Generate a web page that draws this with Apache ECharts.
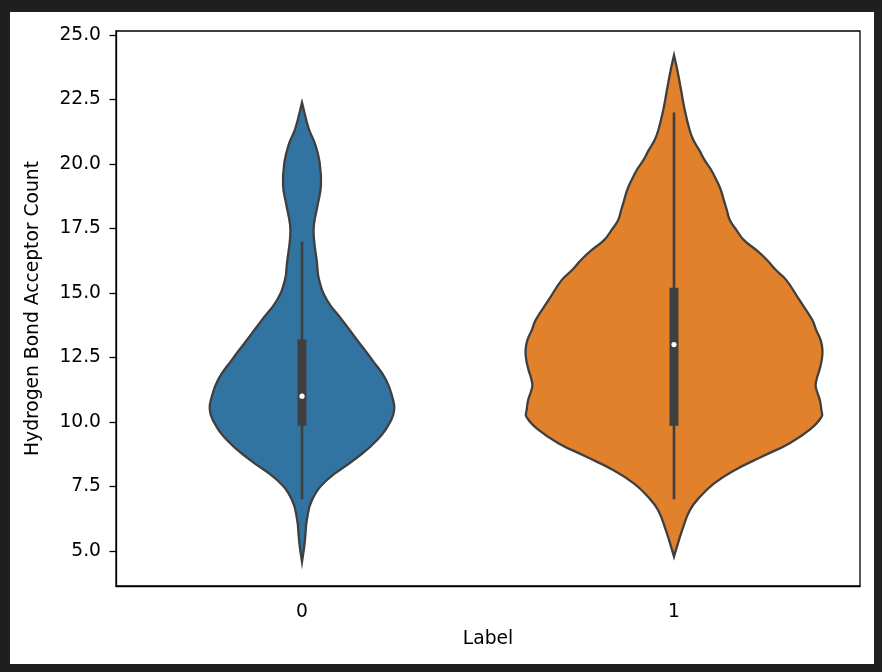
<!DOCTYPE html>
<html>
<head>
<meta charset="utf-8">
<script src="https://cdn.jsdelivr.net/npm/echarts@6/dist/echarts.min.js"></script>
<style>
  html, body { margin: 0; padding: 0; background: #1f1f1f; }
  #paper { position: absolute; left: 10px; top: 12px; width: 864px; height: 652px; background: #ffffff; }
  #main { position: absolute; left: 0; top: 0; width: 882px; height: 672px; }
</style>
</head>
<body>
<div id="paper"></div>
<div id="main"></div>
<script>
// categories on the x axis
var categories = ['0', '1'];
var yTicks = [5.0, 7.5, 10.0, 12.5, 15.0, 17.5, 20.0, 22.5, 25.0];

// violin outlines: value and half width (fraction of a category band)
var violin0Y = [22.39, 21.38, 20.74, 20.09, 19.19, 18.41, 17.64, 17.12, 16.21, 15.50, 14.73, 13.95, 13.18, 12.40, 11.63, 10.85, 10.50, 10.08, 9.30, 8.53, 7.75, 6.98, 6.20, 5.60, 5.17, 4.58];
var violin0W = [0, 0.018, 0.036, 0.047, 0.051, 0.042, 0.032, 0.032, 0.040, 0.046, 0.067, 0.108, 0.148, 0.189, 0.226, 0.245, 0.248, 0.240, 0.202, 0.140, 0.067, 0.027, 0.013, 0.009, 0.006, 0];
var violin1Y = [24.22, 23.64, 22.87, 22.09, 21.32, 20.93, 20.54, 20.16, 19.77, 19.38, 18.99, 18.60, 18.22, 17.83, 17.44, 17.05, 16.67, 16.28, 15.89, 15.50, 14.73, 13.95, 13.57, 13.18, 12.79, 12.40, 12.02, 11.63, 11.37, 10.85, 10.47, 10.21, 9.69, 9.17, 8.66, 8.14, 7.62, 7.10, 6.59, 5.81, 5.17, 4.78];
var violin1W = [0, 0.009, 0.019, 0.029, 0.042, 0.052, 0.068, 0.082, 0.100, 0.114, 0.126, 0.134, 0.142, 0.150, 0.168, 0.188, 0.221, 0.250, 0.274, 0.302, 0.337, 0.372, 0.382, 0.394, 0.399, 0.397, 0.391, 0.383, 0.381, 0.392, 0.396, 0.397, 0.364, 0.310, 0.237, 0.164, 0.108, 0.070, 0.043, 0.022, 0.008, 0];

// inner box: whiskers, quartiles, median
var whiskerLow = [7.0, 7.0];
var whiskerHigh = [17.0, 22.0];
var q1 = [9.85, 9.85];
var q3 = [13.2, 15.2];
var median = [11.0, 13.0];

var colors = ['#3274a1', '#e1812c'];
var edge = '#3f3f3f';
var violinY = [violin0Y, violin1Y];
var violinW = [violin0W, violin1W];
var font = 'DejaVu Sans';

var chart = echarts.init(document.getElementById('main'), null, { renderer: 'canvas' });

function renderViolin(params, api) {
  var i = api.value(0);
  var ys = violinY[i], ws = violinW[i];
  var band = api.size([1, 0])[0];
  var cx = api.coord([i, 0])[0];
  var right = [], left = [];
  for (var k = 0; k < ys.length; k++) {
    var py = api.coord([i, ys[k]])[1];
    right.push([cx + ws[k] * band, py]);
    left.unshift([cx - ws[k] * band, py]);
  }
  var pts = right.concat(left);
  var yLo = api.coord([i, whiskerLow[i]])[1];
  var yHi = api.coord([i, whiskerHigh[i]])[1];
  var yQ1 = api.coord([i, q1[i]])[1];
  var yQ3 = api.coord([i, q3[i]])[1];
  var yMed = api.coord([i, median[i]])[1];
  return {
    type: 'group',
    children: [
      { type: 'polygon', shape: { points: pts, smooth: 0.45 },
        style: { fill: colors[i], stroke: edge, lineWidth: 2.3 } },
      { type: 'line', shape: { x1: cx, y1: yLo, x2: cx, y2: yHi },
        style: { stroke: edge, lineWidth: 2.6 } },
      { type: 'rect', shape: { x: cx - 4.5, y: yQ3, width: 9, height: yQ1 - yQ3 },
        style: { fill: edge } },
      { type: 'circle', shape: { cx: cx, cy: yMed, r: 2.6 },
        style: { fill: '#ffffff' } }
    ]
  };
}

var option = {
  animation: false,
  backgroundColor: 'transparent',
  grid: {
    left: 116, top: 31, right: 22, bottom: 86,
    show: true, borderColor: '#000', borderWidth: 1.3, backgroundColor: 'transparent'
  },
  xAxis: {
    type: 'category',
    data: categories,
    boundaryGap: true,
    name: 'Label',
    nameLocation: 'middle',
    nameGap: 44,
    nameTextStyle: { fontFamily: font, fontSize: 18.7, color: '#000' },
    axisLine: { lineStyle: { color: '#000', width: 1.3 } },
    axisTick: { alignWithLabel: true, length: 6.5, lineStyle: { color: '#000', width: 1.3 } },
    axisLabel: { fontFamily: font, fontSize: 18.7, color: '#000', margin: 17 },
    splitLine: { show: false }
  },
  yAxis: {
    type: 'value',
    min: 3.64,
    max: 25.16,
    name: 'Hydrogen Bond Acceptor Count',
    nameLocation: 'middle',
    nameGap: 73,
    nameTextStyle: { fontFamily: font, fontSize: 18.7, color: '#000' },
    axisLine: { show: true, lineStyle: { color: '#000', width: 1.3 } },
    axisTick: { show: true, length: 6.5, customValues: yTicks, lineStyle: { color: '#000', width: 1.3 } },
    axisLabel: { fontFamily: font, fontSize: 18.7, color: '#000', margin: 15, customValues: yTicks,
      formatter: function (v) { return v.toFixed(1); } },
    splitLine: { show: false }
  },
  series: [{
    type: 'custom',
    renderItem: renderViolin,
    data: categories.map(function (c, i) { return [i, median[i]]; }),
    encode: { x: 0, y: 1 },
    clip: false
  }]
};

chart.setOption(option);
</script>
</body>
</html>
